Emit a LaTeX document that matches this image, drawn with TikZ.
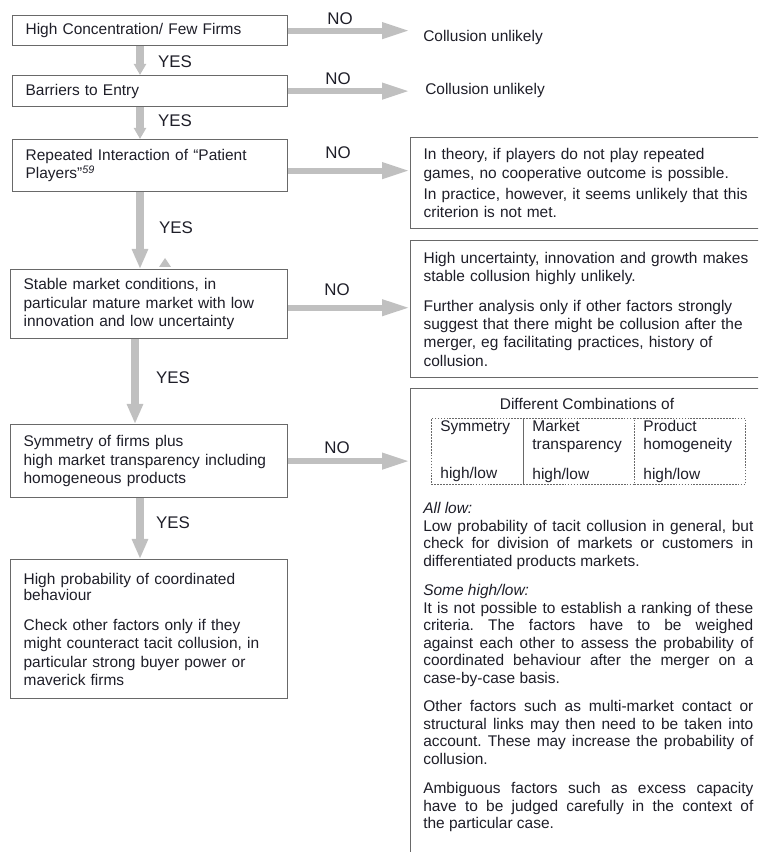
\documentclass[tikz,border=0pt]{standalone}
\usepackage{fontspec}
\setmainfont{Liberation Sans}
\usetikzlibrary{arrows.meta}
\frenchspacing

\definecolor{arrowgray}{RGB}{192,192,192}
\definecolor{framegray}{RGB}{105,105,105}
\definecolor{inkdark}{RGB}{30,30,40}

\tikzset{
	box/.style={draw=framegray, line width=0.9pt, anchor=north west, inner sep=0pt,
		align=left, text=inkdark, font=\fontsize{11}{13}\selectfont},
	cell/.style={draw=framegray, dash pattern=on 1.2pt off 0.9pt, line width=0.6pt,
		anchor=north west, inner sep=0pt, align=left, text=inkdark,
		minimum height=1.65cm, font=\fontsize{11}{12.8}\selectfont},
	para/.style={anchor=north west, inner sep=0pt, text width=8.25cm, align=justify,
		text=inkdark, font=\fontsize{11}{12.5}\selectfont},
	answer/.style={text=inkdark, font=\fontsize{12}{13}\selectfont},
	plain/.style={text=inkdark, inner sep=0pt, font=\fontsize{11}{13}\selectfont},
	shortflow/.style={draw=arrowgray, line width=5pt, -{Triangle[length=0.28cm,width=0.3cm]}},
	downflow/.style={draw=arrowgray, line width=5pt, -{Triangle[length=0.5cm,width=0.38cm]}},
	sideflow/.style={draw=arrowgray, line width=4.3pt, -{Triangle[length=0.7cm,width=0.38cm]}}
}

\begin{document}
\begin{tikzpicture}[x=0.025cm, y=-0.025cm]

	\useasboundingbox (0,0) rectangle (758,852);
	\clip (0,0) rectangle (758,852);

	\coordinate (S) at (140,0);
	\coordinate (S4) at (135,0);
	\coordinate (T) at (410,0);

	% questions
	\node[box, minimum width=6.875cm, minimum height=0.75cm, text width=6.225cm] (Q1) at (12,15)
		{High Concentration/ Few Firms};
	\node[box, minimum width=6.875cm, minimum height=0.775cm, text width=6.225cm] (Q2) at (12,75)
		{Barriers to Entry};
	\node[box, minimum width=6.875cm, minimum height=1.3cm, text width=6.225cm] (Q3) at (12,139)
		{Repeated Interaction of “Patient\\Players”\textsuperscript{\textit{59}}};
	\node[box, minimum width=6.925cm, minimum height=1.725cm, text width=6.275cm] (Q4) at (10,269)
		{Stable market conditions, in\\particular mature market with low\\innovation and low uncertainty};
	\node[box, minimum width=6.925cm, minimum height=1.825cm, text width=6.275cm] (Q5) at (10,424)
		{Symmetry of firms plus\\high market transparency including\\homogeneous products\\[6pt]};
	\node[box, minimum width=6.925cm, minimum height=3.475cm, text width=6.275cm] (Q6) at (10,559)
		{High probability of coordinated\\[-1pt]behaviour\\[8pt]Check other factors only if they\\might counteract tacit collusion, in\\particular strong buyer power or\\maverick firms\\[4pt]};

	% yes
	\draw[shortflow] (Q1.south -| S) -- (Q2.north -| S);
	\draw[shortflow] (Q2.south -| S) -- (Q3.north -| S);
	\draw[downflow] (Q3.south -| S) -- (Q4.north -| S);
	\draw[downflow] (Q4.south -| S4) -- (Q5.north -| S4);
	\draw[downflow] (Q5.south -| S) -- (Q6.north -| S);

	\node[answer] (Y1) at (175,62) {YES};
	\node[answer] (Y2) at (175,121) {YES};
	\node[answer] (Y3) at (176,228) {YES};
	\node[answer] (Y4) at (173,378) {YES};
	\node[answer] (Y5) at (173,523) {YES};

	\fill[arrowgray] (159,267) -- (171,267) -- (165,258) -- cycle;

	% no
	\node[plain, anchor=west] (U1) at (423,38) {Collusion unlikely};
	\node[plain, anchor=west] (U2) at (425,91) {Collusion unlikely};

	\node[box, minimum width=9.25cm, minimum height=2.275cm, text width=8.6cm] (R3) at (410,137)
		{In theory, if players do not play repeated\\games, no cooperative outcome is possible.\\[2pt]In practice, however, it seems unlikely that this\\criterion is not met.};
	\node[box, minimum width=9.25cm, minimum height=3.425cm, text width=8.6cm] (R4) at (410,240)
		{High uncertainty, innovation and growth makes\\stable collusion highly unlikely.\\[8pt]Further analysis only if other factors strongly\\suggest that there might be collusion after the\\merger, eg facilitating practices, history of\\collusion.};
	\node[box, minimum width=9.25cm, minimum height=12cm] (R5) at (410,388) {};

	\draw[sideflow] (Q1.east) -- (Q1.east -| T);
	\draw[sideflow] (Q2.east) -- (Q2.east -| T);
	\draw[sideflow] ([yshift=-0.125cm]Q3.east) -- ([yshift=-0.125cm]Q3.east -| R3.west);
	\draw[sideflow] ([yshift=-0.09cm]Q4.east) -- ([yshift=-0.09cm]Q4.east -| R4.west);
	\draw[sideflow] (Q5.east) -- (Q5.east -| R5.west);

	\node[answer] (N1) at (340,19) {NO};
	\node[answer] (N2) at (338,79) {NO};
	\node[answer] (N3) at (338,153) {NO};
	\node[answer] (N4) at (337,290) {NO};
	\node[answer] (N5) at (337,448) {NO};

	% combinations
	\node[plain] (H) at (587,404) {Different Combinations of};
	\node[cell, minimum width=2.3cm, text width=1.85cm] (C1) at (431,418)
		{Symmetry\\\mbox{}\\[8pt]high/low};
	\node[cell, minimum width=2.775cm, text width=2.325cm] (C2) at (523,418)
		{Market\\transparency\\[8pt]high/low};
	\node[cell, minimum width=2.775cm, text width=2.325cm] (C3) at (634,418)
		{Product\\homogeneity\\[8pt]high/low};

	\node[para] (P1) at (423,502) {\textit{All low:}\\Low probability of tacit collusion in general, but\linebreak
		check for division of markets or customers in\linebreak differentiated products markets.};
	\node[para] (P2) at (423,584) {\textit{Some high/low:}\\It is not possible to establish a ranking of these\linebreak
		criteria. The factors have to be weighed\linebreak against each other to assess the probability of\linebreak
		coordinated behaviour after the merger on a\linebreak case-by-case basis.};
	\node[para] (P3) at (423,700) {Other factors such as multi-market contact or\linebreak
		structural links may then need to be taken into\linebreak account. These may increase the probability of\linebreak collusion.};
	\node[para] (P4) at (423,782) {Ambiguous factors such as excess capacity\linebreak
		have to be judged carefully in the context of\linebreak the particular case.};

\end{tikzpicture}
\end{document}
